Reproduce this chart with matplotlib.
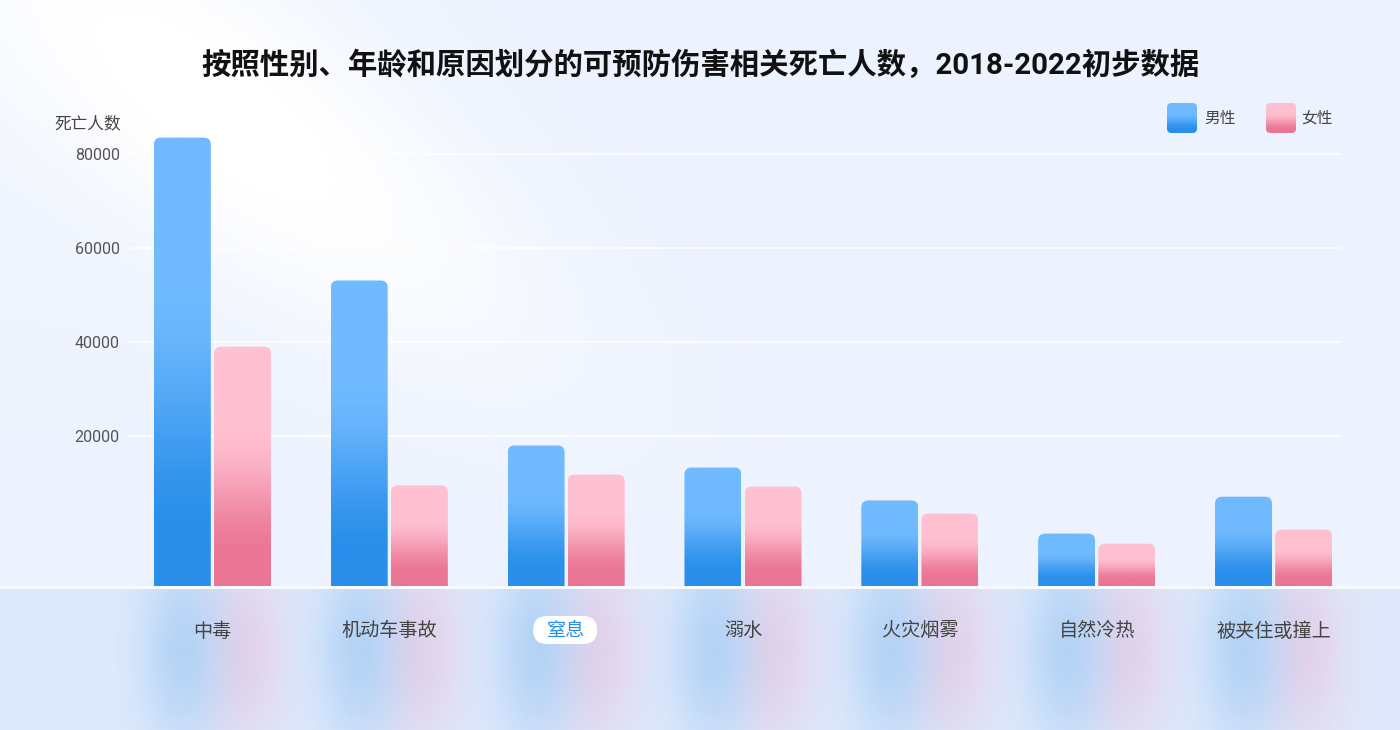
import numpy as np
import matplotlib
matplotlib.use("Agg")
import matplotlib.pyplot as plt
from matplotlib.path import Path
from matplotlib.patches import PathPatch, FancyBboxPatch
from matplotlib.colors import to_rgb

plt.rcParams['font.family'] = ['Roboto', 'Noto Sans CJK SC', 'DejaVu Sans']

# 数据
categorias = ["中毒", "机动车事故", "窒息", "溺水", "火灾烟雾", "自然冷热", "被夹住或撞上"]
hombres = [83400, 53000, 17900, 13200, 6200, -850, 7000]
mujeres = [38900, 9400, 11700, 9150, 3400, -3000, 0]
series = ["男性", "女性"]
ticks_y = [20000, 40000, 60000, 80000]
destacado = "窒息"
titulo = "按照性别、年龄和原因划分的可预防伤害相关死亡人数，2018-2022初步数据"

Y_MIN, Y_MAX = -12000, 91400
W, H = 1400, 730

AZUL = (to_rgb("#70BAFF"), to_rgb("#2A8FEA"))
ROSA = (to_rgb("#FFC0D1"), to_rgb("#EA7594"))


def degradado(claro, oscuro, n=256):
    t = np.linspace(0, 1, n)
    f = np.clip((t - 0.33) / (0.9 - 0.33), 0, 1)
    f = f * f * (3 - 2 * f)
    c1, c2 = np.array(claro), np.array(oscuro)
    return (c1[None, :] * (1 - f[:, None]) + c2[None, :] * f[:, None])[:, None, :]


def camino_redondeado(x0, x1, y0, y1, rx, ry):
    ry = min(ry, (y1 - y0) / 2)
    verts = [(x0, y0), (x0, y1 - ry), (x0, y1), (x0 + rx, y1),
             (x1 - rx, y1), (x1, y1), (x1, y1 - ry), (x1, y0), (x0, y0)]
    codes = [Path.MOVETO, Path.LINETO, Path.CURVE3, Path.CURVE3,
             Path.LINETO, Path.CURVE3, Path.CURVE3, Path.LINETO, Path.CLOSEPOLY]
    return Path(verts, codes)


fig = plt.figure(figsize=(14, 7.3), dpi=100)

# eje principal en pixeles: x 124-1362, y 100-586
ax = fig.add_axes([124 / W, 1 - 586 / H, (1362 - 124) / W, (586 - 100) / H])
ax.set_facecolor("none")
x = np.arange(len(categorias))
ancho = 0.322

for vals, (claro, oscuro), desp in [(hombres, AZUL, -0.17), (mujeres, ROSA, 0.17)]:
    alturas = np.array(vals) - Y_MIN
    barras = ax.bar(x + desp, alturas, width=ancho, bottom=Y_MIN,
                    facecolor="none", edgecolor="none")
    for r in barras:
        x0, y0 = r.get_x(), r.get_y()
        x1, y1 = x0 + r.get_width(), y0 + r.get_height()
        p = camino_redondeado(x0, x1, y0, y1, 0.04, 1500)
        parche = PathPatch(p, fc="none", ec="none", transform=ax.transData)
        ax.add_patch(parche)
        im = ax.imshow(degradado(claro, oscuro), extent=[x0, x1, y0, y1],
                       aspect="auto", origin="upper", interpolation="bilinear", zorder=3)
        im.set_clip_path(parche)

ax.set_xlim(-0.5, len(categorias) - 0.5)
ax.set_ylim(Y_MIN, Y_MAX)
for t in ticks_y:
    ax.axhline(t, xmin=0.005, xmax=0.982, color="white", lw=1.1, zorder=1)
ax.set_yticks(ticks_y)
ax.set_yticklabels([str(t) for t in ticks_y])
ax.tick_params(axis="y", length=0, pad=3, labelsize=11.5, labelcolor="#555555")
ax.set_xticks(x)
ax.set_xticklabels(categorias)
ax.tick_params(axis="x", length=0, pad=26, labelsize=13.8, labelcolor="#444444")
for sp in ax.spines.values():
    sp.set_visible(False)

for lab in ax.get_xticklabels():
    if lab.get_text() == destacado:
        lab.set_color("#2A8FEA")

# fondo
yy, xx = np.mgrid[0:H, 0:W].astype(float)
base = np.array(to_rgb("#ECF2FE"))
bg = np.ones((H, W, 3)) * base
perp = np.abs((xx - 60) * 0.6 - (yy + 10) * 0.8)
along = (xx - 60) * 0.8 + (yy + 10) * 0.6
blanco = 0.95 * np.exp(-(perp / 130) ** 2) * np.exp(-((along - 230) / 380) ** 2)
blanco += 0.25 * np.exp(-(xx ** 2 + yy ** 2) / 450 ** 2)
blanco = np.clip(blanco, 0, 1)[..., None]
bg = bg * (1 - blanco) + blanco

banda = yy >= 589
bg[banda] = to_rgb("#DFEAFC")
linea = (yy >= 586) & (yy < 589)
bg[linea] = to_rgb("#F7FAFE")

cx_m = [ax.transData.transform((i - 0.17, 0))[0] for i in x]
cx_f = [ax.transData.transform((i + 0.17, 0))[0] for i in x]
c_az = np.array(to_rgb("#A9CEF5"))
c_ro = np.array(to_rgb("#E6CCE5"))
for centros, col in [(cx_f, c_ro), (cx_m, c_az)]:
    for cx in centros:
        g = 0.8 * np.exp(-((xx - cx) / 42) ** 2 - ((yy - 650) / 95) ** 2)
        g = np.where(banda, g, 0)[..., None]
        bg = bg * (1 - g) + col * g

axf = fig.add_axes([0, 0, 1, 1], zorder=-10)
axf.imshow(bg, extent=[0, W, H, 0], aspect="auto", interpolation="bilinear")
axf.set_xlim(0, W)
axf.set_ylim(H, 0)
axf.axis("off")

# caja blanca del destacado
i_d = categorias.index(destacado)
cxd = ax.transData.transform((i_d, 0))[0]
caja = FancyBboxPatch((cxd - 33, H - 630 - 14), 64, 28,
                      boxstyle="round,pad=0,rounding_size=14",
                      fc="white", ec="none", transform=None, zorder=-1)
fig.add_artist(caja)

# textos
fig.text(0.5, 1 - 65 / H, titulo, ha="center", va="center",
         fontsize=21.2, fontweight="bold", color="#111111")
fig.text(54 / W, 1 - 123 / H, "死亡人数", ha="left", va="center",
         fontsize=12, color="#444444")

# leyenda
for nombre, (claro, oscuro), px, tx in [(series[0], AZUL, 1167, 1204),
                                        (series[1], ROSA, 1266, 1301)]:
    axl = fig.add_axes([px / W, 1 - 133 / H, 30 / W, 30 / H])
    axl.set_xlim(0, 1)
    axl.set_ylim(0, 1)
    axl.axis("off")
    im = axl.imshow(degradado(claro, oscuro), extent=[0, 1, 0, 1],
                    aspect="auto", origin="upper", interpolation="bilinear")
    clip = FancyBboxPatch((0, 0), 1, 1, boxstyle="round,pad=0,rounding_size=0.15",
                          fc="none", ec="none", transform=axl.transData)
    axl.add_patch(clip)
    im.set_clip_path(clip)
    fig.text(tx / W, 1 - 118 / H, nombre, ha="left", va="center",
             fontsize=11.3, color="#444444")

fig.savefig("out.png", dpi=100)
